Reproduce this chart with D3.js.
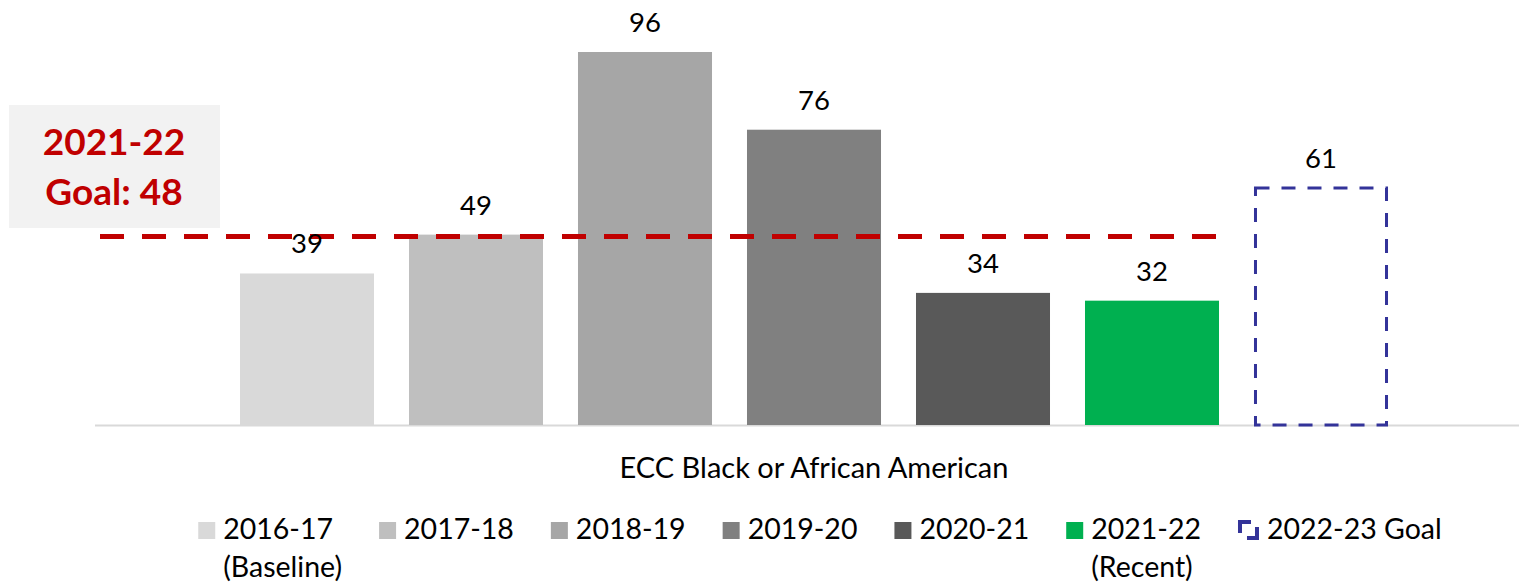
<!DOCTYPE html>
<html>
<head>
<meta charset="utf-8">
<script src="https://cdn.jsdelivr.net/npm/d3@7"></script>
<style>
  html, body { margin: 0; padding: 0; background: #fff; }
  svg { display: block; }
  text { font-family: Lato, "Open Sans", sans-serif; }
</style>
</head>
<body>
<svg id="chart" width="1519" height="584"></svg>
<script>
// ---- data ----
const years = ["2016-17", "2017-18", "2018-19", "2019-20", "2020-21", "2021-22", "2022-23 Goal"];
const values = [39, 49, 96, 76, 34, 32, 61];
const legendLine1 = ["2016-17", "2017-18", "2018-19", "2019-20", "2020-21", "2021-22", "2022-23 Goal"];
const legendLine2 = ["(Baseline)", "", "", "", "", "(Recent)", ""];
const barColors = ["#D9D9D9", "#BFBFBF", "#A6A6A6", "#808080", "#595959", "#00B050", "none"];
const category = "ECC Black or African American";
const goalValue = 48;
const goalLabel = ["2021-22", "Goal: 48"];

// ---- layout ----
const svg = d3.select("#chart");
const baseY = 425;
const x = d3.scaleBand().domain(years).range([222.5, 1405.5]).paddingInner(0.207).paddingOuter(0.1035);
const y = d3.scaleLinear().domain([0, 96]).range([baseY, 52]);

// axis line
const axisG = svg.append("g").attr("transform", `translate(0,${baseY})`)
  .call(d3.axisBottom(x).tickSize(0).tickFormat(""));
axisG.select(".domain").remove();
svg.append("line").attr("x1", 95).attr("x2", 1519).attr("y1", baseY + 0.5).attr("y2", baseY + 0.5)
  .attr("stroke", "#D9D9D9").attr("stroke-width", 2);

// bars
const data = years.map((k, i) => ({ k, v: values[i], c: barColors[i] }));
svg.append("g").selectAll("rect.bar").data(data.filter(d => d.c !== "none")).join("rect")
  .attr("class", "bar")
  .attr("x", d => x(d.k)).attr("width", x.bandwidth())
  .attr("y", d => y(d.v)).attr("height", d => baseY - y(d.v))
  .attr("fill", d => d.c);

// goal dashed bar
data.filter(d => d.c === "none").forEach(d => {
  svg.append("rect")
    .attr("x", x(d.k) + 1.5).attr("width", x.bandwidth() - 3)
    .attr("y", y(d.v)).attr("height", baseY - y(d.v))
    .attr("fill", "none").attr("stroke", "#333399").attr("stroke-width", 3)
    .attr("stroke-dasharray", "14,12");
});

// goal line
svg.append("line").attr("x1", 100).attr("x2", x(years[5]) + x.bandwidth())
  .attr("y1", y(goalValue) - 2).attr("y2", y(goalValue) - 2)
  .attr("stroke", "#C00000").attr("stroke-width", 5).attr("stroke-dasharray", "24,18");

// value labels
svg.append("g").selectAll("text.val").data(data).join("text")
  .attr("class", "val")
  .attr("x", d => x(d.k) + x.bandwidth() / 2)
  .attr("y", d => y(d.v) - 20)
  .attr("text-anchor", "middle").attr("font-size", 27.5).attr("fill", "#000")
  .text(d => d.v);

// goal label box
svg.append("rect").attr("x", 9).attr("y", 105).attr("width", 211).attr("height", 123).attr("fill", "#F2F2F2");
svg.append("g").selectAll("text.goal").data(goalLabel).join("text")
  .attr("class", "goal")
  .attr("x", 114).attr("y", (d, i) => 155 + i * 50)
  .attr("text-anchor", "middle").attr("font-size", 37).attr("font-weight", "bold").attr("fill", "#C00000")
  .text(d => d);

// category label (centred on the bar group)
const catCenter = (x(years[0]) + x(years[years.length - 1]) + x.bandwidth()) / 2;
svg.append("text").attr("x", catCenter).attr("y", 478).attr("text-anchor", "middle")
  .attr("font-size", 29).attr("fill", "#000").text(category);

// legend (flow layout, centred)
const leg = svg.append("g");
let lx = 0;
const fs = 28.5;
legendLine1.forEach((t, i) => {
  const g = leg.append("g").attr("transform", `translate(${lx},0)`);
  let tx = 25;
  if (barColors[i] !== "none") {
    g.append("rect").attr("x", 0).attr("y", 522).attr("width", 17).attr("height", 17).attr("fill", barColors[i]);
  } else {
    tx = 29;
    g.append("path").attr("d", "M2,533 V522 H13").attr("fill", "none").attr("stroke", "#333399").attr("stroke-width", 4);
    g.append("path").attr("d", "M9,538 H19 V527").attr("fill", "none").attr("stroke", "#333399").attr("stroke-width", 4);
  }
  const t1 = g.append("text").attr("x", tx).attr("y", 539).attr("font-size", fs).attr("fill", "#000").text(t);
  let w = t1.node().getComputedTextLength();
  if (legendLine2[i]) {
    const t2 = g.append("text").attr("x", tx).attr("y", 577).attr("font-size", fs).attr("fill", "#000").text(legendLine2[i]);
    w = Math.max(w, t2.node().getComputedTextLength());
  }
  lx += tx + w + (i < legendLine1.length - 1 ? 37 : 0);
});
leg.attr("transform", `translate(${820 - lx / 2},0)`);
</script>
</body>
</html>
